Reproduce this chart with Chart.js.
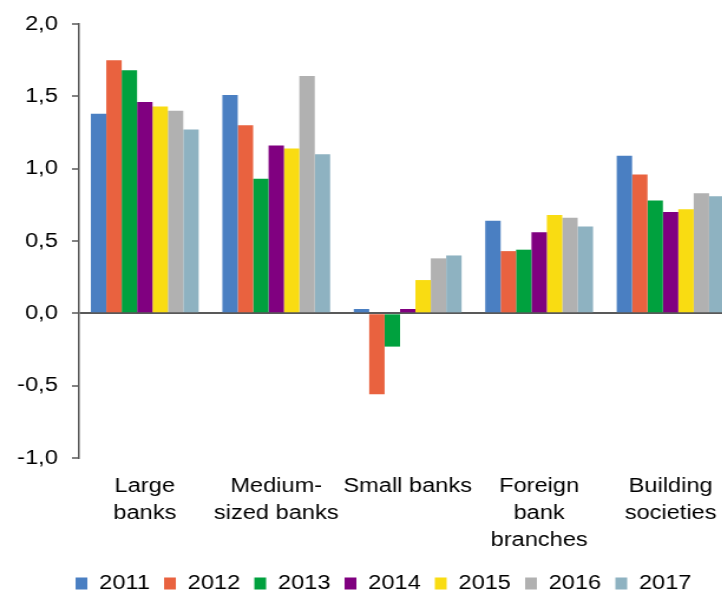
<!DOCTYPE html>
<html>
<head>
<meta charset="utf-8">
<script src="https://cdn.jsdelivr.net/npm/chart.js@4.4.1/dist/chart.umd.min.js"></script>
<style>
    html, body { margin: 0; padding: 0; background: #fff; overflow: hidden; }
    /* l'original est étiré horizontalement */
    #wrap { width: 624px; height: 594px; transform: scaleX(1.18); transform-origin: 0 0; }
</style>
</head>
<body>
<div id="wrap"><canvas id="graph1" width="624" height="594"></canvas></div>
<script>
// Données
const categories = [["Large", "banks"], ["Medium-", "sized banks"], "Small banks", ["Foreign", "bank", "branches"], ["Building", "societies"]];
const years = ["2011", "2012", "2013", "2014", "2015", "2016", "2017"];
const values2011 = [1.38, 1.51, 0.03, 0.64, 1.09];
const values2012 = [1.75, 1.30, -0.56, 0.43, 0.96];
const values2013 = [1.68, 0.93, -0.23, 0.44, 0.78];
const values2014 = [1.46, 1.16, 0.03, 0.56, 0.70];
const values2015 = [1.43, 1.14, 0.23, 0.68, 0.72];
const values2016 = [1.40, 1.64, 0.38, 0.66, 0.83];
const values2017 = [1.27, 1.10, 0.40, 0.60, 0.81];
const yTicks = [-1.0, -0.5, 0.0, 0.5, 1.0, 1.5, 2.0];

const seriesValues = [values2011, values2012, values2013, values2014, values2015, values2016, values2017];
const colors = ["#4a7fc2", "#e9623f", "#00a13e", "#800080", "#f9dc12", "#b1b1b1", "#8eb2c1"];

const font = { family: "'Liberation Sans', Arial, sans-serif", size: 20 };
const axisColor = "#595959";

// Décaler la légende un peu vers la droite
const shiftLegend = {
    id: "shiftLegend",
    afterLayout(chart) {
        if (chart.legend) {
            chart.legend.left += 26;
        }
    }
};

const ctx = document.getElementById("graph1").getContext("2d");
const graph = new Chart(ctx, {
    type: "bar",
    data: {
        labels: categories,
        datasets: years.map((y, i) => ({
            label: y,
            data: seriesValues[i],
            backgroundColor: colors[i],
            categoryPercentage: 0.82,
            barPercentage: 1.0
        }))
    },
    plugins: [shiftLegend],
    options: {
        responsive: false,
        animation: false,
        layout: { padding: { top: 24, left: 0, right: 0, bottom: -9.5 } },
        plugins: {
            legend: {
                position: "bottom",
                labels: {
                    boxWidth: 10,
                    boxHeight: 12,
                    padding: 12,
                    color: "#000",
                    font: font
                }
            },
            tooltip: { enabled: false }
        },
        scales: {
            x: {
                grid: { display: false, drawTicks: false },
                border: { display: false },
                ticks: {
                    color: "#000",
                    padding: 15,
                    maxRotation: 0,
                    autoSkip: false,
                    font: { family: font.family, size: 20, lineHeight: 1.35 }
                },
                afterFit: (scale) => { scale.height = 103.5; }
            },
            y: {
                min: -1,
                max: 2,
                afterBuildTicks: (scale) => { scale.ticks = yTicks.map(v => ({ value: v })); },
                afterFit: (scale) => { scale.width = 67; },
                grid: {
                    drawOnChartArea: true,
                    color: (c) => (c.tick && c.tick.value === 0) ? axisColor : "rgba(0,0,0,0)",
                    lineWidth: 2,
                    tickColor: axisColor,
                    tickWidth: 1.5,
                    tickLength: 6
                },
                border: { display: true, color: axisColor, width: 1.5 },
                ticks: {
                    color: "#000",
                    padding: 12,
                    font: font,
                    callback: (v) => v.toFixed(1).replace(".", ",")
                }
            }
        }
    }
});
</script>
</body>
</html>
